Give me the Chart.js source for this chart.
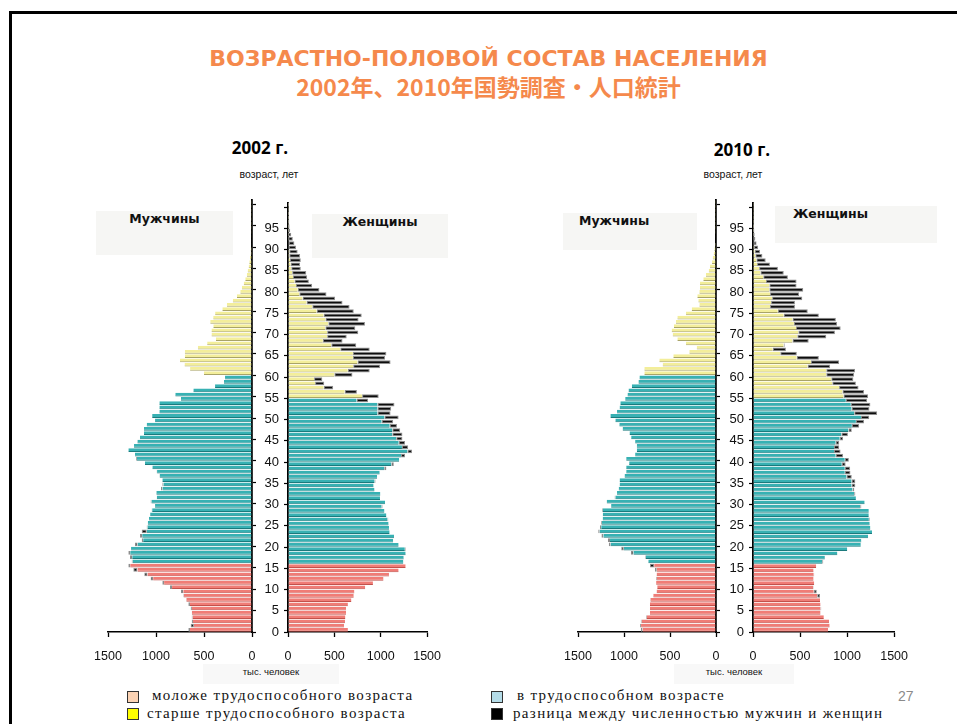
<!DOCTYPE html>
<html>
<head>
<meta charset="utf-8">
<script src="https://cdn.jsdelivr.net/npm/chart.js@4.4.0/dist/chart.umd.min.js"></script>
<style>
  body { margin: 0; background: #fff; }
  #page { position: relative; width: 957px; height: 724px; overflow: hidden; font-family: "Liberation Sans", Arial, sans-serif; }
  #frame { position: absolute; left: 9px; top: 11px; width: 1000px; height: 800px; border-top: 3px solid #000; border-left: 3px solid #000; }
  .t { position: absolute; white-space: nowrap; }
  .title { left: 0; width: 977px; text-align: center; color: #f5894c; font-weight: bold; }
  .year { font-family: "Open Sans", sans-serif; font-weight: bold; font-size: 17px; color: #000; transform: translateX(-50%); }
  .age { font-size: 10.5px; color: #111; transform: translateX(-50%); }
  .sex { position: absolute; background: #f6f6f4; }
  .sex span { position: absolute; top: 0; left: 0; right: 0; text-align: center; font-family: "DejaVu Sans", sans-serif; font-weight: bold; font-size: 12.5px; color: #111; }
  .unit { position: absolute; background: #f8f8f8; font-size: 9.5px; color: #111; text-align: center; }
  canvas { position: absolute; }
  .lg { position: absolute; font-family: "Liberation Serif", serif; font-size: 15px; letter-spacing: 1.35px; color: #111; white-space: nowrap; }
  .sw { position: absolute; width: 10px; height: 10px; border: 1px solid #333; }
</style>
</head>
<body>
<div id="page">
  <div id="frame"></div>

  <div class="t title" style="top:46px;font-family:'DejaVu Sans',sans-serif;font-size:22px;">ВОЗРАСТНО-ПОЛОВОЙ СОСТАВ НАСЕЛЕНИЯ</div>
  <div class="t title" style="top:69px;font-family:'Noto Sans CJK JP',sans-serif;font-size:23px;">2002年、2010年国勢調査・人口統計</div>

  <div class="t year" style="left:260px;top:136px;">2002 г.</div>
  <div class="t year" style="left:742px;top:138px;">2010 г.</div>
  <div class="t age" style="left:269px;top:168px;">возраст, лет</div>
  <div class="t age" style="left:733px;top:168px;">возраст, лет</div>

  <div class="sex" style="left:96px;top:211px;width:137px;height:44px;"><span>Мужчины</span></div>
  <div class="sex" style="left:312px;top:214px;width:136px;height:44px;"><span>Женщины</span></div>
  <div class="sex" style="left:563px;top:213px;width:134px;height:37px;"><span style="text-align:left;left:16px;">Мужчины</span></div>
  <div class="sex" style="left:775px;top:206px;width:162px;height:37px;"><span style="text-align:left;left:18px;">Женщины</span></div>

  <div class="unit" style="left:203px;top:664px;width:136px;height:20px;line-height:16px;">тыс. человек</div>
  <div class="unit" style="left:674px;top:664px;width:120px;height:20px;line-height:16px;">тыс. человек</div>

  <canvas id="m2002" width="168" height="476" style="left:88px;top:190px;"></canvas>
  <canvas id="w2002" width="201" height="476" style="left:252px;top:190px;"></canvas>
  <canvas id="m2010" width="162" height="476" style="left:558px;top:190px;"></canvas>
  <canvas id="w2010" width="204" height="476" style="left:716px;top:190px;"></canvas>

  <div class="sw" style="left:127px;top:691px;background:#fcd3b4;"></div>
  <div class="lg" style="left:152px;top:687px;">моложе трудоспособного возраста</div>
  <div class="sw" style="left:127px;top:708px;background:#ffff00;"></div>
  <div class="lg" style="left:147px;top:705px;">старше трудоспособного возраста</div>
  <div class="sw" style="left:491px;top:691px;background:#b4dce8;"></div>
  <div class="lg" style="left:517px;top:687px;">в трудоспособном возрасте</div>
  <div class="sw" style="left:491px;top:708px;background:#000;"></div>
  <div class="lg" style="left:513px;top:705px;">разница между численностью мужчин и женщин</div>
  <div class="t" style="left:898px;top:688px;font-size:14px;color:#8a8a8a;">27</div>
</div>

<script>
// ages 0..100, one bar each
const ages = Array.from({ length: 101 }, (_, i) => i);
const ageTicks = [0, 5, 10, 15, 20, 25, 30, 35, 40, 45, 50, 55, 60, 65, 70, 75, 80, 85, 90, 95];
const valueTicks = [0, 500, 1000, 1500];

// working-age limits
const youngMax = 15;
const menWorkMax = 59;
const womenWorkMax = 54;

// thousand persons, by single year of age
const men2002 = [
  663, 639, 628, 628, 628, 639, 663, 688, 715, 740,
  854, 934, 1056, 1122, 1236, 1288, 1253, 1271, 1288, 1260,
  1219, 1149, 1167, 1149, 1097, 1087, 1073, 1063, 1045, 1010,
  1056, 993, 1000, 948, 934, 934, 965, 993, 1038, 1115,
  1208, 1219, 1288, 1229, 1194, 1167, 1125, 1125, 1097, 1010,
  1040, 965, 965, 965, 740, 799, 611, 385, 292, 281,
  500, 645, 703, 750, 700, 700, 564, 467, 376, 422,
  422, 403, 435, 404, 384, 309, 262, 200, 157, 122,
  105, 86, 70, 54, 45, 35, 28, 21, 14, 14,
  7, 7, 3, 2, 1, 1, 1, 1, 1, 1, 1
];
const women2002 = [
  646, 605, 615, 619, 626, 626, 646, 684, 709, 716,
  833, 916, 1030, 1089, 1193, 1269, 1244, 1248, 1269, 1269,
  1193, 1134, 1144, 1096, 1089, 1085, 1082, 1061, 1040, 1020,
  1047, 992, 996, 933, 923, 944, 961, 989, 1061, 1141,
  1199, 1262, 1338, 1296, 1262, 1234, 1234, 1210, 1175, 1134,
  1193, 1106, 1113, 1148, 864, 978, 743, 487, 391, 370,
  695, 881, 992, 1106, 1047, 1061, 881, 736, 588, 633,
  758, 726, 830, 761, 795, 709, 664, 588, 508, 415,
  339, 260, 225, 207, 197, 138, 131, 138, 131, 104,
  86, 69, 52, 35, 24, 17, 14, 10, 10, 7, 10
];
const men2010 = [
  818, 825, 818, 761, 718, 718, 718, 718, 682, 646,
  639, 653, 653, 646, 664, 718, 736, 771, 925, 1030,
  1165, 1175, 1245, 1280, 1262, 1250, 1232, 1232, 1240, 1140,
  1190, 1102, 1076, 1058, 1048, 1048, 994, 976, 976, 944,
  976, 879, 861, 861, 879, 922, 940, 1015, 1051, 1094,
  1148, 1076, 1048, 1040, 987, 962, 951, 915, 843, 832,
  779, 779, 580, 616, 464, 290, 210, 326, 420, 471,
  482, 457, 435, 420, 326, 264, 181, 192, 203, 181,
  174, 174, 138, 109, 79, 65, 43, 36, 25, 18,
  11, 6, 4, 2, 1, 1, 1, 1, 1, 1, 1
];
const women2010 = [
  798, 815, 808, 753, 719, 726, 719, 713, 713, 678,
  644, 651, 644, 651, 644, 672, 747, 764, 897, 1002,
  1146, 1152, 1224, 1265, 1248, 1241, 1241, 1231, 1231, 1152,
  1187, 1094, 1088, 1077, 1088, 1088, 1050, 1036, 1033, 985,
  1019, 958, 931, 917, 917, 958, 1009, 1050, 1129, 1180,
  1236, 1320, 1238, 1248, 1214, 1224, 1180, 1122, 1094, 1067,
  1075, 1085, 820, 915, 700, 466, 350, 337, 592, 779,
  871, 932, 894, 881, 700, 582, 446, 446, 524, 490,
  534, 463, 463, 371, 327, 265, 180, 135, 100, 75,
  55, 38, 25, 18, 14, 10, 7, 5, 3, 2, 3
];

const colYoung = '#f07c76', edgeYoung = '#c2524c';
const colWork = '#37b1b3', edgeWork = '#1c7a7d';
const colOld = '#f3ee9a', edgeOld = '#a9a468';
const colDiff = '#0d0d0d', edgeDiff = '#8e8e8e';

const tickFont = { family: 'Liberation Sans', size: 12.5 };

function halfData(own, other, workMax) {
  const pick = (test) => ages.map(a => ({
    x: test(a) ? Math.min(own[a], other[a]) : null,
    y: a + 0.5
  }));
  const band = (label, test, bg, edge) => ({
    label, data: pick(test), backgroundColor: bg, borderColor: edge,
    borderWidth: { top: 0, right: 0, bottom: 1, left: 0 }
  });
  return [
    band('young', a => a <= youngMax, colYoung, edgeYoung),
    band('work', a => a > youngMax && a <= workMax, colWork, edgeWork),
    band('old', a => a > workMax, colOld, edgeOld),
    {
      label: 'diff',
      data: ages.map(a => ({ x: own[a] > other[a] ? own[a] - other[a] : null, y: a + 0.5 })),
      backgroundColor: colDiff, borderColor: edgeDiff, borderWidth: 1, borderSkipped: false
    }
  ];
}

function makeHalf(id, own, other, workMax, isMen) {
  return new Chart(document.getElementById(id), {
    type: 'bar',
    data: { datasets: halfData(own, other, workMax) },
    options: {
      indexAxis: 'y',
      responsive: false,
      animation: false,
      barPercentage: 0.88,
      categoryPercentage: 1,
      layout: { padding: isMen ? { left: 20, right: 0, top: 10, bottom: 0 } : { left: 0, right: 20, top: 10, bottom: 0 } },
      plugins: { legend: { display: false }, tooltip: { enabled: false } },
      scales: {
        x: {
          type: 'linear', stacked: true, min: 0, max: 1500, reverse: isMen,
          afterBuildTicks: s => { s.ticks = valueTicks.map(v => ({ value: v })); },
          ticks: { font: tickFont, color: '#111', padding: 12, callback: v => String(v) },
          grid: { drawOnChartArea: false, tickLength: 5, color: '#000', tickWidth: 1.3 },
          border: { color: '#000', width: 1.6 },
          afterFit: s => { s.height = 34; }
        },
        y: {
          type: 'linear', stacked: true, min: 0, max: 101, offset: false,
          position: isMen ? 'right' : 'left',
          afterBuildTicks: s => { s.ticks = ageTicks.concat([100]).map(v => ({ value: v })); },
          ticks: {
            display: !isMen, font: { family: 'Liberation Sans', size: 13 }, color: '#111', padding: 5,
            callback: v => (v < 100 ? String(v) : '')
          },
          grid: { offset: false, drawOnChartArea: false, tickLength: 4, color: '#000', tickWidth: 1.2 },
          border: { color: '#000', width: 1.8 },
          afterFit: s => { s.width = isMen ? 4 : (id === 'w2002' ? 36 : 37); }
        }
      }
    }
  });
}

makeHalf('m2002', men2002, women2002, menWorkMax, true);
makeHalf('w2002', women2002, men2002, womenWorkMax, false);
makeHalf('m2010', men2010, women2010, menWorkMax, true);
makeHalf('w2010', women2010, men2010, womenWorkMax, false);
</script>
</body>
</html>
